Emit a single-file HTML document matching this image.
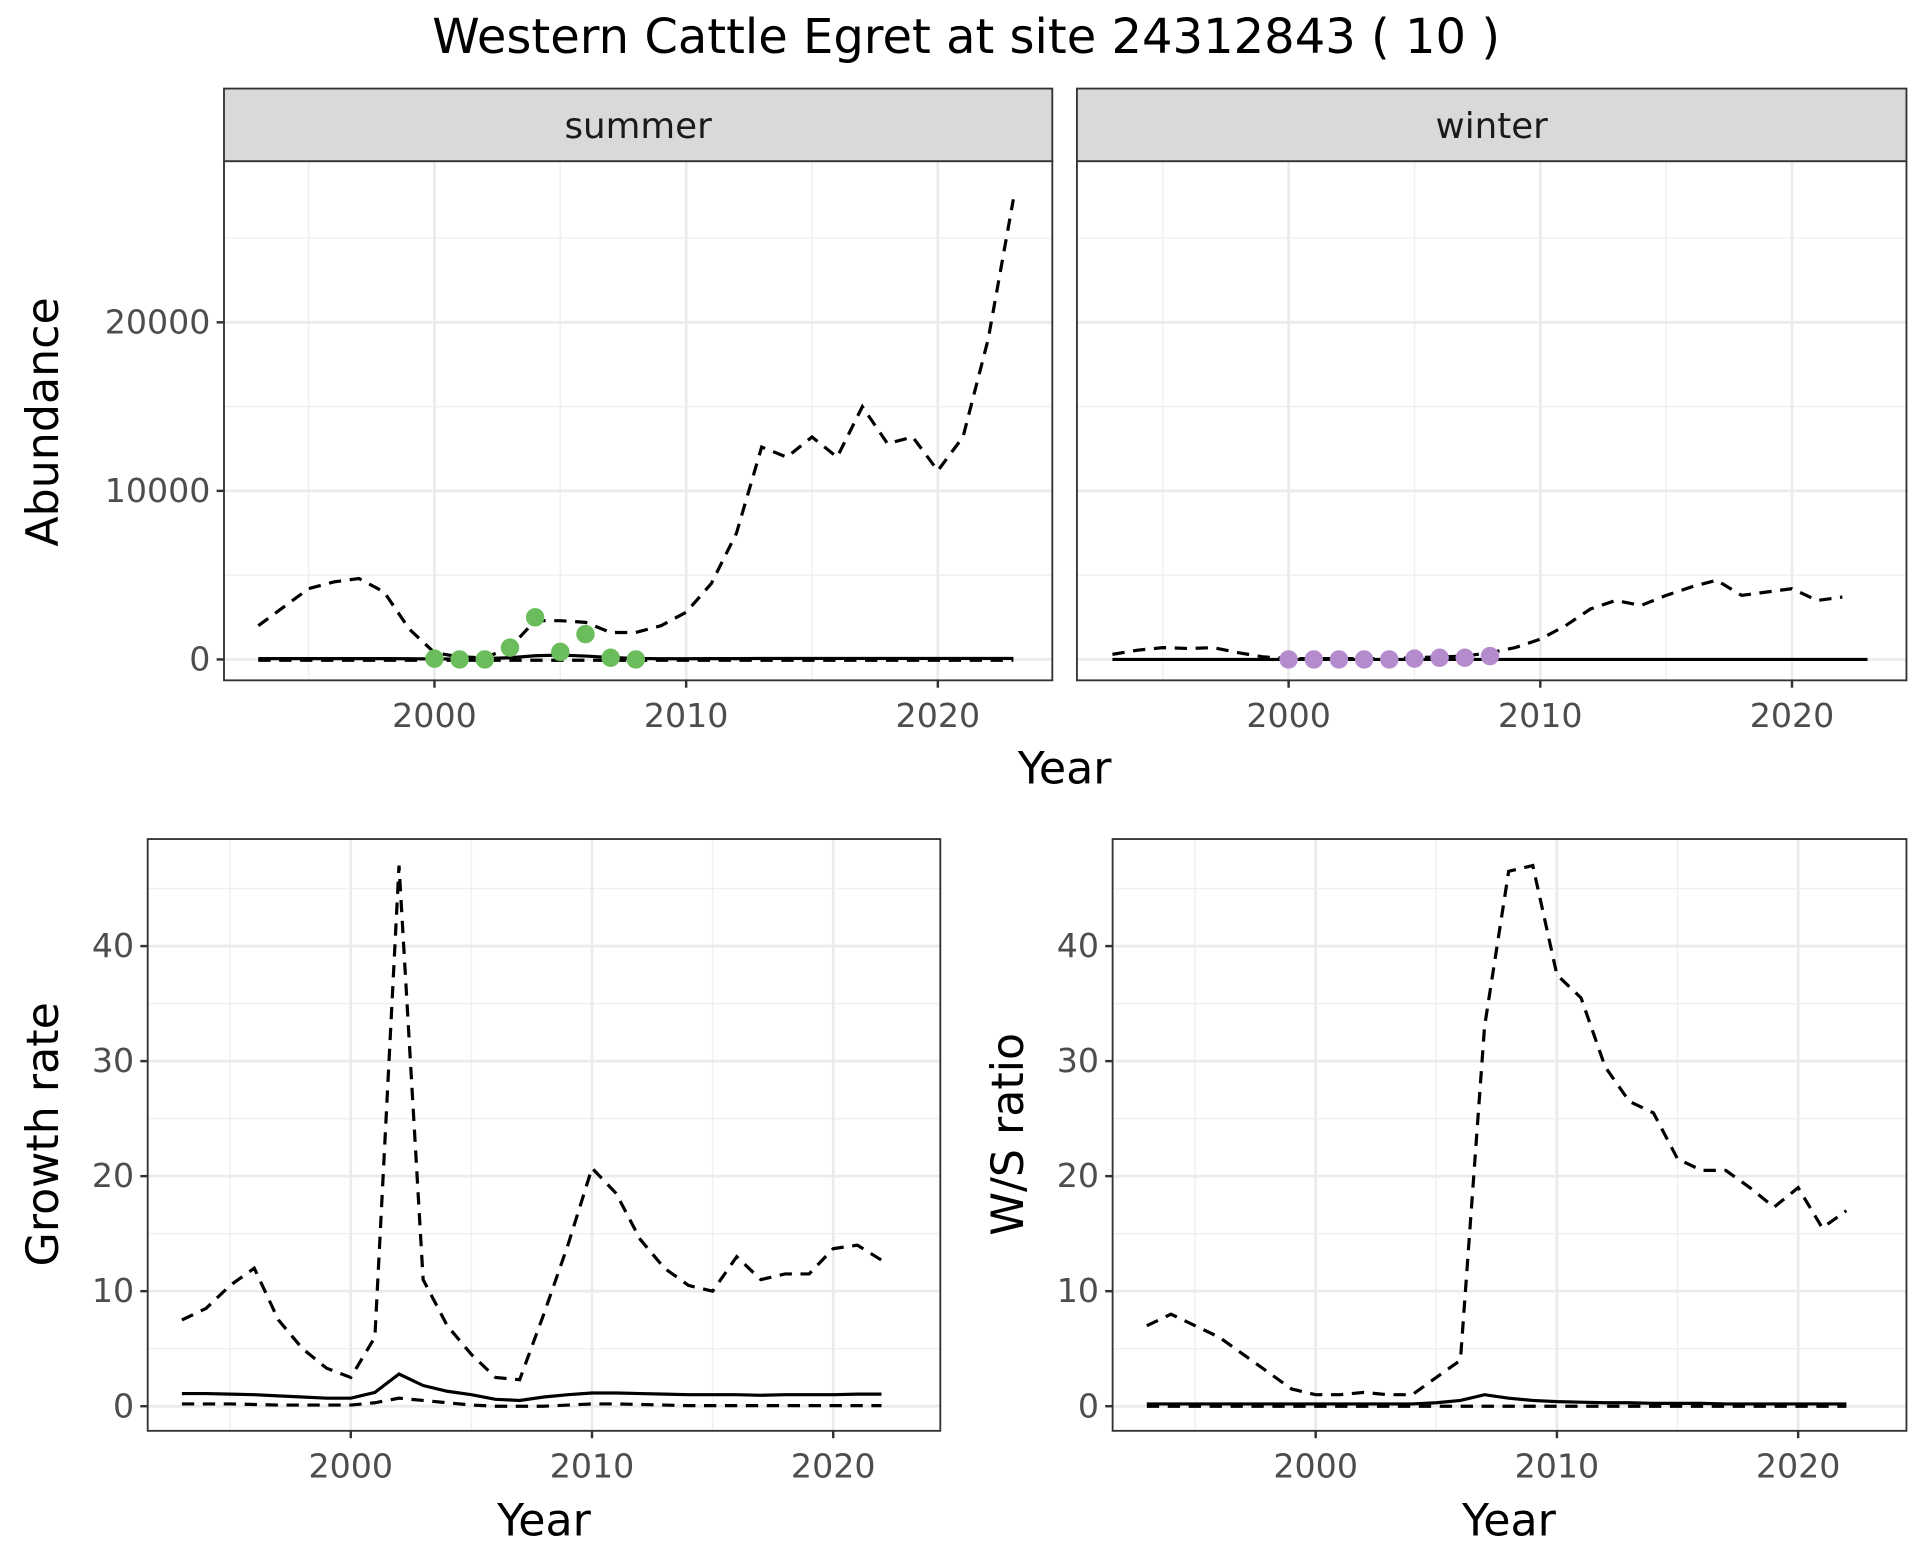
<!DOCTYPE html>
<html><head><meta charset="utf-8"><style>
html,body{margin:0;padding:0;background:#fff;}
svg{display:block;font-family:"DejaVu Sans","Liberation Sans",sans-serif;}
</style></head><body>
<svg id="chart" width="1920" height="1560" viewBox="0 0 1560 1268" preserveAspectRatio="none" xmlns="http://www.w3.org/2000/svg">
<text x="785" y="43" font-size="39" text-anchor="middle" fill="#000">Western Cattle Egret at site 24312843 ( 10 )</text>
<g id="root"></g>
</svg>
<script>
const yearsA = [1993,1994,1995,1996,1997,1998,1999,2000,2001,2002,2003,2004,2005,2006,2007,2008,2009,2010,2011,2012,2013,2014,2015,2016,2017,2018,2019,2020,2021,2022,2023];
const summerUpper = [2000,3100,4200,4600,4800,4000,1800,400,150,100,700,2300,2300,2200,1600,1600,2000,2800,4500,7500,12600,12000,13200,12000,15000,12800,13200,11200,13200,19000,27300];
const summerMean = [50,50,50,50,50,50,40,30,30,50,100,220,260,200,120,60,40,40,50,50,60,60,60,60,60,60,60,60,60,60,60];
const summerLower = [-50,-50,-50,-50,-50,-50,-50,-50,-50,-50,-50,-50,-50,-50,-50,-50,-50,-50,-50,-50,-50,-50,-50,-50,-50,-50,-50,-50,-50,-50,-50];
const summerObsYears = [2000,2001,2002,2003,2004,2005,2006,2007,2008];
const summerObs = [50,0,0,700,2500,450,1500,100,0];
const yearsW = [1993,1994,1995,1996,1997,1998,1999,2000,2001,2002,2003,2004,2005,2006,2007,2008,2009,2010,2011,2012,2013,2014,2015,2016,2017,2018,2019,2020,2021,2022];
const winterUpper = [300,550,700,650,700,400,150,50,50,50,50,50,100,150,200,400,700,1200,2000,3000,3500,3200,3800,4300,4700,3800,4000,4200,3500,3700];
const winterMean = [0,0,0,0,0,0,0,0,0,0,0,0,0,0,0,0,0,0,0,0,0,0,0,0,0,0,0,0,0,0,0];
const winterObsYears = [2000,2001,2002,2003,2004,2005,2006,2007,2008];
const winterObs = [0,0,0,0,0,50,100,100,200];
const yearsG = [1993,1994,1995,1996,1997,1998,1999,2000,2001,2002,2003,2004,2005,2006,2007,2008,2009,2010,2011,2012,2013,2014,2015,2016,2017,2018,2019,2020,2021,2022];
const growthUpper = [7.5,8.5,10.5,12,7.5,5,3.3,2.5,6,47,11,7,4.5,2.5,2.3,8,14,20.7,18.5,14.5,12,10.5,10,13,11,11.5,11.5,13.7,14,12.7];
const growthMean = [1.1,1.1,1.05,1,0.9,0.8,0.7,0.7,1.2,2.8,1.8,1.3,1,0.6,0.5,0.8,1.0,1.15,1.15,1.1,1.05,1,1,1,0.95,1,1,1,1.05,1.05];
const growthLower = [0.2,0.2,0.2,0.15,0.1,0.1,0.1,0.1,0.3,0.7,0.5,0.3,0.1,0,0,0,0.1,0.2,0.2,0.15,0.1,0.05,0.05,0.05,0.05,0.05,0.05,0.05,0.05,0.05];
const ratioUpper = [7,8,7,6,4.5,3,1.5,1,1,1.2,1,1,2.5,4,33,46.5,47,37.5,35.5,29.5,26.5,25.5,21.5,20.5,20.5,19,17.3,19,15.5,17];
const ratioMean = [0.2,0.2,0.2,0.2,0.2,0.2,0.2,0.2,0.2,0.2,0.2,0.2,0.3,0.5,1.0,0.7,0.5,0.4,0.35,0.3,0.3,0.25,0.25,0.25,0.2,0.2,0.2,0.2,0.2,0.2];
const ratioLower = [0,0,0,0,0,0,0,0,0,0,0,0,0,0,0,0,0,0,0,0,0,0,0,0,0,0,0,0,0,0];
const yearTicks = [2000,2010,2020];
const abundTicks = [0,10000,20000];
const rateTicks = [0,10,20,30,40];

const NS="http://www.w3.org/2000/svg";
const root=document.getElementById('root');
function mk(tag,attrs,parent){const e=document.createElementNS(NS,tag);for(const k in attrs)e.setAttribute(k,attrs[k]);(parent||root).appendChild(e);return e;}
function lin(d0,d1,r0,r1){return v=>r0+(v-d0)*(r1-r0)/(d1-d0);}

function panel(o){
  const g=mk('g',{});
  
  
  const x=lin(2000,2020,o.x2000,o.x2020), y=lin(0,o.yRef,o.y0,o.yRefPx);
  mk('rect',{x:o.l,y:o.t,width:o.r-o.l,height:o.b-o.t,fill:'#fff'},g);
  for(let yr=1995;yr<=2025;yr+=10){const px=x(yr);if(px>o.l&&px<o.r)mk('line',{x1:px,x2:px,y1:o.t,y2:o.b,stroke:'#f0f0f0','stroke-width':1.2},g);}
  for(let v=o.minorStep;v<=o.yMax;v+=o.yStep){const py=y(v);if(py>o.t&&py<o.b)mk('line',{x1:o.l,x2:o.r,y1:py,y2:py,stroke:'#f0f0f0','stroke-width':1.2},g);}
  yearTicks.forEach(t=>{mk('line',{x1:x(t),x2:x(t),y1:o.t,y2:o.b,stroke:'#ebebeb','stroke-width':2.2},g);});
  o.yTicks.forEach(t=>{mk('line',{x1:o.l,x2:o.r,y1:y(t),y2:y(t),stroke:'#ebebeb','stroke-width':2.2},g);});
  o.series.forEach(s=>{
    const p=mk('polyline',{points:s.ys.map((v,i)=>x(s.xs[i])+','+y(v)).join(' '),fill:'none',stroke:'#000','stroke-width':2.6,'stroke-dasharray':s.dash?'10,7':'none'},g);
    
    
  });
  if(o.pts){o.pts.ys.forEach((v,i)=>{
    const c=mk('circle',{cx:x(o.pts.xs[i]),cy:y(v),r:7.5,fill:o.pts.color},g);
    
    
  });}
  mk('rect',{x:o.l,y:o.t,width:o.r-o.l,height:o.b-o.t,fill:'none',stroke:'#333','stroke-width':1.5},g);
  yearTicks.forEach(t=>{
    mk('line',{x1:x(t),x2:x(t),y1:o.b,y2:o.b+6,stroke:'#333','stroke-width':2},g);
    const tx=mk('text',{x:x(t),y:o.b+38,'font-size':27,'text-anchor':'middle',fill:'#4d4d4d'},g);tx.textContent=t;
    
    
  });
  if(o.yLabels){o.yTicks.forEach(t=>{
    mk('line',{x1:o.l-6,x2:o.l,y1:y(t),y2:y(t),stroke:'#333','stroke-width':2},g);
    const tx=mk('text',{x:o.l-11,y:y(t)+9,'font-size':27,'text-anchor':'end',fill:'#4d4d4d'},g);tx.textContent=t;
    
    
  });}
  if(o.strip){
    mk('rect',{x:o.l,y:o.t-59,width:o.r-o.l,height:59,fill:'#d9d9d9',stroke:'#333','stroke-width':1.5},g);
    const st=mk('text',{x:(o.l+o.r)/2,y:o.t-19,'font-size':29,'text-anchor':'middle',fill:'#1a1a1a'},g);st.textContent=o.strip;
    
    
  }
}

panel({name:'summer-panel',l:182,r:855,t:131,b:553,x2000:353,x2020:762,y0:536,yRef:20000,yRefPx:262,yTicks:abundTicks,yLabels:true,minorStep:5000,yStep:10000,yMax:30000,strip:'summer',
  series:[{xs:yearsA,ys:summerUpper,dash:true,name:'summer-upper-line'},{xs:yearsA,ys:summerLower,dash:true,name:'summer-lower-line'},{xs:yearsA,ys:summerMean,dash:false,name:'summer-mean-line'}],
  pts:{xs:summerObsYears,ys:summerObs,color:'#6abd5a'}});
panel({name:'winter-panel',l:875,r:1549,t:131,b:553,x2000:1047,x2020:1456,y0:536,yRef:20000,yRefPx:262,yTicks:abundTicks,yLabels:false,minorStep:5000,yStep:10000,yMax:30000,strip:'winter',
  series:[{xs:yearsW,ys:winterUpper,dash:true,name:'winter-upper-line'},{xs:yearsA,ys:winterMean,dash:false,name:'winter-mean-line'}],
  pts:{xs:winterObsYears,ys:winterObs,color:'#b48ccd'}});
panel({name:'growth-panel',l:120,r:764,t:682,b:1163,x2000:285,x2020:677,y0:1143,yRef:40,yRefPx:769,yTicks:rateTicks,yLabels:true,minorStep:5,yStep:10,yMax:50,
  series:[{xs:yearsG,ys:growthUpper,dash:true,name:'growth-upper-line'},{xs:yearsG,ys:growthLower,dash:true,name:'growth-lower-line'},{xs:yearsG,ys:growthMean,dash:false,name:'growth-mean-line'}]});
panel({name:'ratio-panel',l:904,r:1549,t:682,b:1163,x2000:1069,x2020:1461,y0:1143,yRef:40,yRefPx:769,yTicks:rateTicks,yLabels:true,minorStep:5,yStep:10,yMax:50,
  series:[{xs:yearsG,ys:ratioUpper,dash:true,name:'ratio-upper-line'},{xs:yearsG,ys:ratioLower,dash:true,name:'ratio-lower-line'},{xs:yearsG,ys:ratioMean,dash:false,name:'ratio-mean-line'}]});

function label(txt,x,y,rot,name){
  const t=mk('text',{x:x,y:y,'font-size':36,'text-anchor':'middle',fill:'#000',transform:rot?`rotate(-90 ${x} ${y})`:''});
  t.textContent=txt;
  
  
}
label('Year',865,637,false,'x-axis-title-top');
label('Year',442,1248,false,'x-axis-title-growth');
label('Year',1226,1248,false,'x-axis-title-ratio');
label('Abundance',47,343,true,'y-axis-title-abundance');
label('Growth rate',47,922,true,'y-axis-title-growth');
label('W/S ratio',831,922,true,'y-axis-title-ratio');
</script>
</body></html>
